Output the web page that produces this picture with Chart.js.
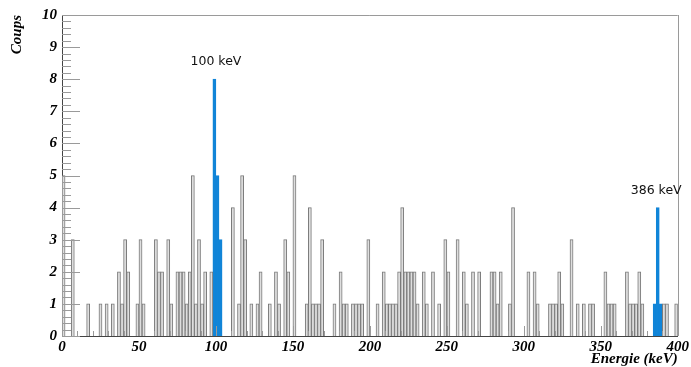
<!DOCTYPE html>
<html><head><meta charset="utf-8">
<script src="https://cdn.jsdelivr.net/npm/chart.js@4/dist/chart.umd.min.js"></script>
<style>html,body{margin:0;padding:0;background:#fff;}#wrap{width:691px;height:367px;position:relative}</style>
</head><body><div id="wrap"><canvas id="c" width="691" height="367"></canvas></div>
<script>
// Histogram: 200 bins of 2 keV from 0 to 400 keV
const binWidthKeV = 2;
const counts = [
  5,0,0,3,0,0,0,0,1,0, 0,0,1,0,1,0,1,0,2,1,
  3,2,0,0,1,3,1,0,0,0, 3,2,2,0,3,1,0,2,2,2,
  1,2,5,1,3,1,2,0,2,8, 5,3,0,0,0,4,0,1,5,3,
  0,1,0,1,2,0,0,1,0,2, 1,0,3,2,0,5,0,0,0,1,
  4,1,1,1,3,0,0,0,1,0, 2,1,1,0,1,1,1,1,0,3,
  0,0,1,0,2,1,1,1,1,2, 4,2,2,2,2,1,0,2,1,0,
  2,0,1,0,3,2,0,0,3,0, 2,1,0,2,0,2,0,0,0,2,
  2,1,2,0,0,1,4,0,0,0, 0,2,0,2,1,0,0,0,1,1,
  1,2,1,0,0,3,0,1,0,1, 0,1,1,0,0,0,2,1,1,1,
  0,0,0,2,1,1,1,2,1,0, 0,0,1,4,1,1,1,0,0,1
];
const peakBins = [49,50,51,192,193,194];
const peakLabels = ['100 keV','386 keV'];
const peakEnergies = [100, 386];
const peakHeights = [8, 4];
const xTickValues = [0,50,100,150,200,250,300,350,400];
const yTickValues = [0,1,2,3,4,5,6,7,8,9,10];
const xTitle = 'Energie (keV)';
const yTitle = 'Coups';

const grayData = counts.map((c,i)=>({x: i*binWidthKeV + binWidthKeV/2, y: peakBins.includes(i) ? 0 : c}));
const blueData = counts.map((c,i)=>({x: i*binWidthKeV + binWidthKeV/2, y: peakBins.includes(i) ? c : 0}));

const axisFont = {family:'"Liberation Serif", serif', size:15, style:'italic', weight:'bold'};
const titleFont = {family:'"Liberation Serif", serif', size:15, style:'italic', weight:'bold', lineHeight:1.2};

const rootDecor = {
  id:'rootDecor',
  afterDraw(chart){
    const ctx = chart.ctx, a = chart.chartArea;
    const xs = chart.scales.x, ys = chart.scales.y;
    ctx.save();
    ctx.strokeStyle = '#9a9a9a';
    ctx.lineWidth = 1;
    ctx.beginPath();
    ctx.moveTo(a.left, a.top+0.5); ctx.lineTo(a.right, a.top+0.5);
    ctx.moveTo(Math.round(a.right)+0.5, a.top); ctx.lineTo(Math.round(a.right)+0.5, a.bottom);
    const yMaj = 18, yMin = 9;
    for (let i=0;i<yTickValues.length;i++){
      const v = yTickValues[i];
      const y = Math.round(ys.getPixelForValue(v))+0.5;
      ctx.moveTo(a.left, y); ctx.lineTo(a.left+yMaj, y);
      if (i < yTickValues.length-1){
        const step = (yTickValues[i+1]-v)/5;
        for (let k=1;k<5;k++){
          const yy = Math.round(ys.getPixelForValue(v+k*step))+0.5;
          ctx.moveTo(a.left, yy); ctx.lineTo(a.left+yMin, yy);
        }
      }
    }
    const xMaj = 10, xMin = 5;
    for (let i=0;i<xTickValues.length;i++){
      const v = xTickValues[i];
      const x = Math.round(xs.getPixelForValue(v))+0.5;
      ctx.moveTo(x, a.bottom); ctx.lineTo(x, a.bottom-xMaj);
      if (i < xTickValues.length-1){
        const step = (xTickValues[i+1]-v)/5;
        for (let k=1;k<5;k++){
          const xx = Math.round(xs.getPixelForValue(v+k*step))+0.5;
          ctx.moveTo(xx, a.bottom); ctx.lineTo(xx, a.bottom-xMin);
        }
      }
    }
    ctx.stroke();
    ctx.fillStyle = '#111';
    ctx.font = '12.5px "DejaVu Sans", sans-serif';
    ctx.textAlign = 'center';
    ctx.textBaseline = 'middle';
    for (let i=0;i<peakLabels.length;i++){
      ctx.fillText(peakLabels[i], xs.getPixelForValue(peakEnergies[i]), ys.getPixelForValue(peakHeights[i]) - 17);
    }
    ctx.restore();
  }
};

new Chart(document.getElementById('c'), {
  type:'bar',
  data:{datasets:[
    {data:grayData, backgroundColor:'#dedede', borderColor:'#7a7a7a', borderWidth:1, grouped:false, barPercentage:1, categoryPercentage:1},
    {data:blueData, backgroundColor:'#1185d8', borderColor:'#1185d8', borderWidth:1, grouped:false, barPercentage:1, categoryPercentage:1}
  ]},
  options:{
    responsive:false, animation:false, devicePixelRatio:1,
    layout:{padding:{left:0, right:12, top:15, bottom:0}},
    plugins:{legend:{display:false}, tooltip:{enabled:false}},
    scales:{
      x:{type:'linear', min:0, max:400, offset:false,
        afterBuildTicks(s){ s.ticks = xTickValues.map(v=>({value:v})); },
        afterFit(s){ s.height = 31; },
        grid:{display:false, drawTicks:false}, border:{display:true, color:'#444', width:1},
        ticks:{font:axisFont, color:'#000', padding:2, maxRotation:0, autoSkip:false},
        title:{display:true, text:xTitle, align:'end', font:{...titleFont, lineHeight:1}, color:'#000', padding:0}
      },
      y:{min:0, max:10,
        afterBuildTicks(s){ s.ticks = yTickValues.map(v=>({value:v})); },
        afterFit(s){ s.width = 62; },
        grid:{display:false, drawTicks:false}, border:{display:true, color:'#444', width:1},
        ticks:{font:axisFont, color:'#000', padding:5},
        title:{display:true, text:yTitle, align:'end', font:titleFont, color:'#000', padding:{top:8, bottom:0}}
      }
    }
  },
  plugins:[rootDecor]
});
</script></body></html>
